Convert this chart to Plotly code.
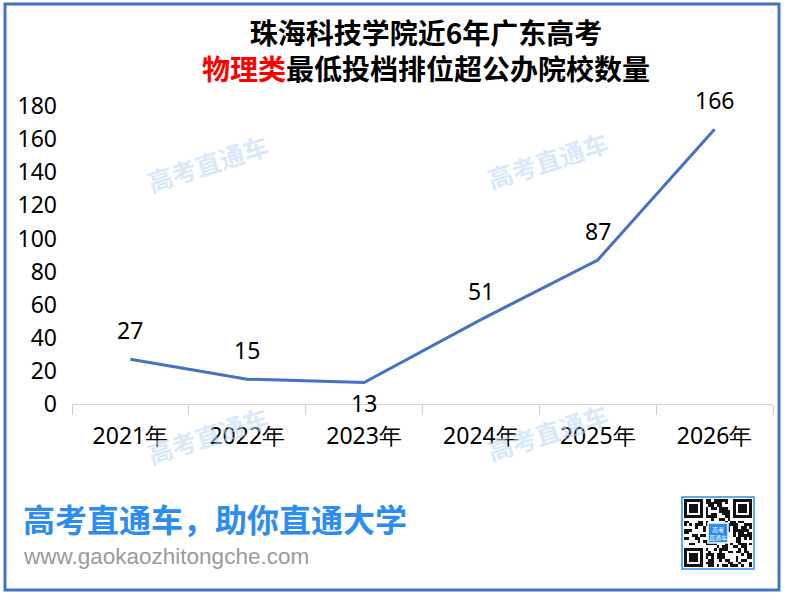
import hashlib
import plotly.graph_objects as go

# ---- data ----
years = ["2021年", "2022年", "2023年", "2024年", "2025年", "2026年"]
counts = [27, 15, 13, 51, 87, 166]
y_ticks = [0, 20, 40, 60, 80, 100, 120, 140, 160, 180]
label_side = ["above", "above", "below", "above", "above", "above"]

W, H = 785, 595


def fx(px):
    return px / W


def fy(py):
    return 1 - py / H


LINE_BLUE = "#4472c4"
BRAND_BLUE = "#2d8cf0"
CJK = "Noto Sans CJK SC"
NUM = "Noto Sans"

fig = go.Figure()

fig.add_trace(go.Scatter(
    x=years, y=counts, mode="lines",
    line=dict(color=LINE_BLUE, width=3),
    hoverinfo="skip", showlegend=False,
    xaxis="x", yaxis="y",
))

# data labels
annotations = []
for yr, v, side in zip(years, counts, label_side):
    annotations.append(dict(
        x=yr, y=v, xref="x", yref="y", text=str(v), showarrow=False,
        font=dict(family=NUM, size=23, color="#000000"),
        xanchor="center", yanchor="middle",
        yshift=29 if side == "above" else -21,
    ))

# title (two lines in one text block)
annotations.append(dict(
    x=fx(426), y=fy(50), xref="paper", yref="paper", showarrow=False,
    text=("<b>珠海科技学院近6年广东高考</b><br>"
          "<b><span style='color:#ff0000'>物理类</span>最低投档排位超公办院校数量</b>"),
    font=dict(family=CJK, size=28, color="#000000"),
    xanchor="center", yanchor="middle", align="center",
))

# watermarks
for (wx, wy) in [(207, 163), (547, 160), (207, 435), (547, 432)]:
    annotations.append(dict(
        x=fx(wx), y=fy(wy), xref="paper", yref="paper", showarrow=False,
        text="<b>高考直通车</b>", textangle=-18,
        font=dict(family=CJK, size=25, color="rgba(190,216,248,0.6)"),
        xanchor="center", yanchor="middle",
    ))

# footer
annotations.append(dict(
    x=fx(21), y=fy(518), xref="paper", yref="paper", showarrow=False,
    text="<b>高考直通车，助你直通大学</b>",
    font=dict(family=CJK, size=32, color=BRAND_BLUE),
    xanchor="left", yanchor="middle",
))
annotations.append(dict(
    x=fx(21), y=fy(556), xref="paper", yref="paper", showarrow=False,
    text="www.gaokaozhitongche.com",
    font=dict(family="Liberation Sans", size=22.5, color="#9a9a9a"),
    xanchor="left", yanchor="middle",
))

# QR-like decoration
N = 25
bits = ""
seed = "www.gaokaozhitongche.com"
while len(bits) < N * N:
    seed = hashlib.md5(seed.encode()).hexdigest()
    bits += bin(int(seed, 16))[2:].zfill(128)
z = [[int(bits[r * N + c]) for c in range(N)] for r in range(N)]


def finder(r0, c0):
    for r in range(-1, 8):
        for c in range(-1, 8):
            rr, cc = r0 + r, c0 + c
            if 0 <= rr < N and 0 <= cc < N:
                if r in (-1, 7) or c in (-1, 7):
                    z[rr][cc] = 0
                elif r in (0, 6) or c in (0, 6):
                    z[rr][cc] = 1
                elif r in (1, 5) or c in (1, 5):
                    z[rr][cc] = 0
                else:
                    z[rr][cc] = 1


finder(0, 0)
finder(0, N - 7)
finder(N - 7, 0)

fig.add_trace(go.Heatmap(
    z=z, colorscale=[[0, "#ffffff"], [1, "#111111"]], showscale=False,
    xaxis="x2", yaxis="y2", hoverinfo="skip", xgap=0, ygap=0,
))

qx0, qx1, qy0, qy1 = 684, 752, 499, 567

shapes = [
    # outer frame
    dict(type="rect", xref="paper", yref="paper",
         x0=fx(5), x1=fx(779), y0=fy(590), y1=fy(4),
         line=dict(color=LINE_BLUE, width=3), fillcolor="rgba(0,0,0,0)"),
    # QR frame
    dict(type="rect", xref="paper", yref="paper",
         x0=fx(qx0 - 2), x1=fx(qx1 + 2), y0=fy(qy1 + 2), y1=fy(qy0 - 2),
         line=dict(color=BRAND_BLUE, width=1.5), fillcolor="rgba(0,0,0,0)"),
    # QR centre logo
    dict(type="rect", xref="paper", yref="paper",
         x0=fx(708), x1=fx(728), y0=fy(543), y1=fy(523),
         line=dict(color="#ffffff", width=1.5), fillcolor=BRAND_BLUE),
]
annotations.append(dict(
    x=fx(718), y=fy(533), xref="paper", yref="paper", showarrow=False,
    text="高考<br>直通车", font=dict(family=CJK, size=6, color="#ffffff"),
    xanchor="center", yanchor="middle",
))

fig.update_layout(
    width=W, height=H,
    template="none",
    paper_bgcolor="#ffffff", plot_bgcolor="rgba(0,0,0,0)",
    margin=dict(l=0, r=0, t=0, b=0),
    showlegend=False,
    xaxis=dict(
        domain=[fx(72), fx(773)], type="category", anchor="y",
        range=[-0.5, len(years) - 0.5],
        showgrid=False, zeroline=False,
        showline=True, linecolor="#d0d0d0", linewidth=1,
        ticks="outside", tickson="boundaries", ticklen=10,
        tickcolor="#d0d0d0", tickwidth=1,
        ticklabelstandoff=11,
        tickfont=dict(family=NUM, size=23, color="#000000"),
        automargin=False, fixedrange=True,
    ),
    yaxis=dict(
        domain=[fy(404), fy(106)], anchor="x",
        range=[0, 180], tickvals=y_ticks,
        showgrid=False, zeroline=False, showline=False, ticks="",
        ticklabelstandoff=14,
        tickfont=dict(family=NUM, size=23, color="#000000"),
        automargin=False, fixedrange=True,
    ),
    xaxis2=dict(domain=[fx(qx0), fx(qx1)], anchor="y2", visible=False,
                range=[-0.5, N - 0.5], fixedrange=True),
    yaxis2=dict(domain=[fy(qy1), fy(qy0)], anchor="x2", visible=False,
                range=[N - 0.5, -0.5], fixedrange=True),
    annotations=annotations,
    shapes=shapes,
)

fig.write_html("out.html")
